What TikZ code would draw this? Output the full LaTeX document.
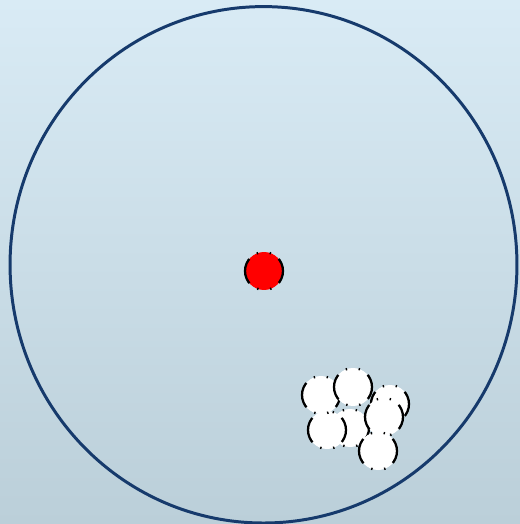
\documentclass[tikz,border=0pt]{standalone}
\usetikzlibrary{positioning,shapes.geometric}
\definecolor{bgtop}{RGB}{217,235,245}
\definecolor{bgbot}{RGB}{187,207,217}
\definecolor{rimc}{RGB}{22,58,108}

\begin{document}
\begin{tikzpicture}[
  x=0.02cm, y=-0.02cm,
  rim/.style={ellipse, draw=rimc, line width=1.7pt, minimum width=10.14cm,
              minimum height=10.33cm, inner sep=0pt},
  ball/.style={circle, draw=black, fill=white, line width=1.3pt, minimum size=0.76cm,
               inner sep=0pt,
               dash pattern=on 15pt off 5.4pt on 0.8pt off 6.7pt on 0.8pt off 5.3pt,
               dash phase=7.5pt},
  core/.style={ball, fill=red},
]

% ---------------- background ----------------
\shade[top color=bgtop, bottom color=bgbot] (0,0) rectangle (520,524);
\useasboundingbox (0,0) rectangle (520,524);

% ---------------- container and centre ----------------
\node[rim] (wall) at (263.5,264.8) {};
\node[core] (c) at (264,271) {};

% ---------------- cluster of particles ----------------
\node[ball] (p6) at (350,428) {};
\node[ball] (p5) at (327,430) {};
\node[ball] (p1) at (321,395) {};
\node[ball] (p2) at (353,387) {};
\node[ball] (p3) at (390,404) {};
\node[ball] (p4) at (384,417) {};
\node[ball] (p7) at (378,451) {};

\end{tikzpicture}
\end{document}
